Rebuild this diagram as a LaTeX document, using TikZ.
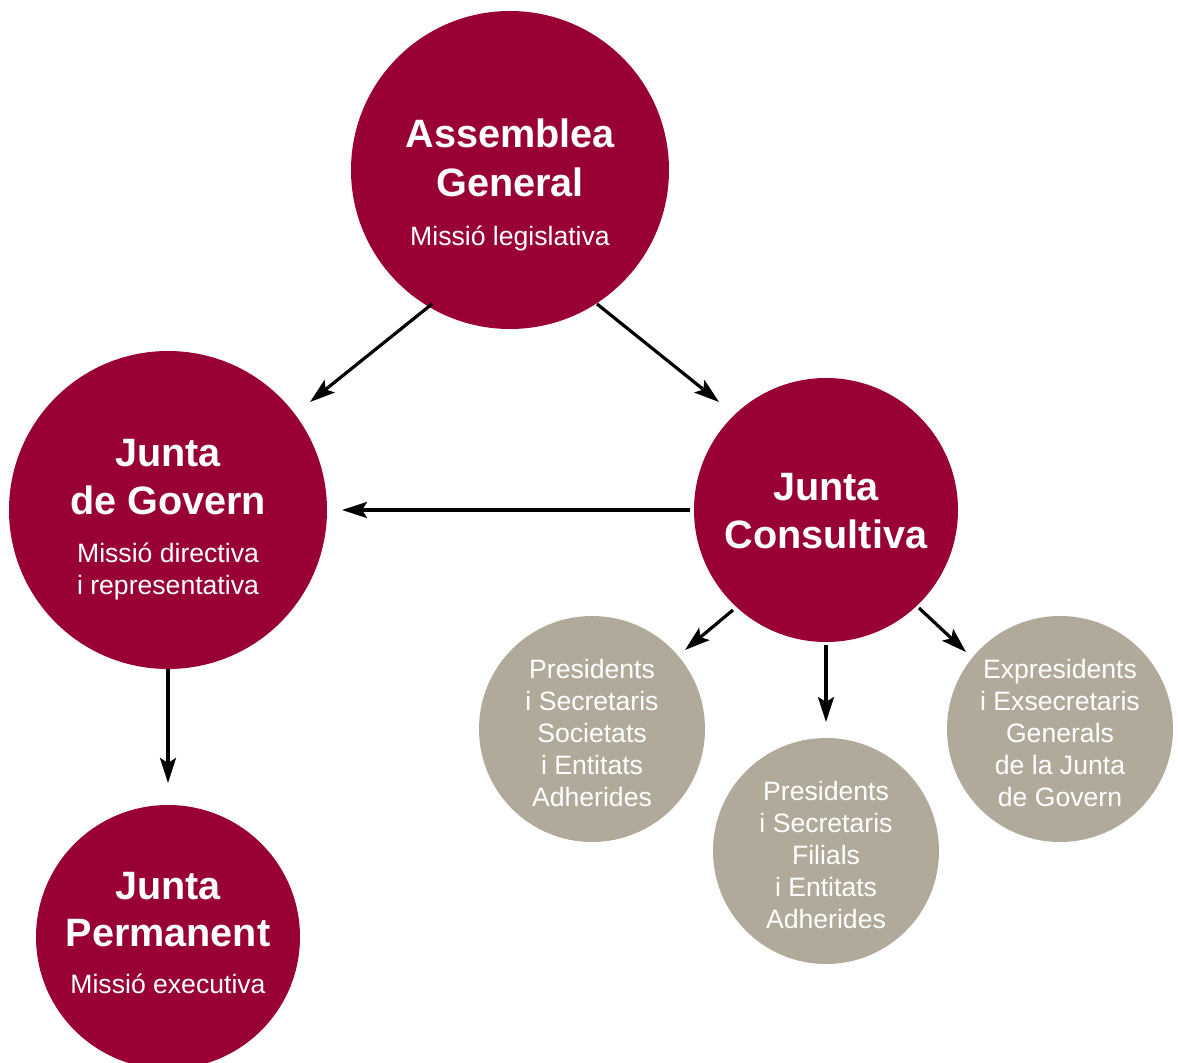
\documentclass[tikz,border=0pt]{standalone}
\usepackage{fontspec}
\setmainfont{Liberation Sans}
\usetikzlibrary{arrows.meta}
\definecolor{cred}{HTML}{990033}
\definecolor{cgrey}{HTML}{B1AA9A}
\tikzset{
  redc/.style={circle,fill=cred,draw=none,inner sep=0pt},
  greyc/.style={circle,fill=cgrey,draw=none,inner sep=0pt},
  ttl/.style={anchor=base,text=white,font=\fontsize{19.8}{24}\selectfont\bfseries,inner sep=0pt,yshift=-1pt},
  sub/.style={anchor=base,text=white,font=\fontsize{13.3}{16}\selectfont,inner sep=0pt,yshift=-1.2pt},
  arr/.style={line width=1.6pt,-{Stealth[length=12.5pt,width=8pt,inset=2.5pt]}}
}
\begin{document}
\begin{tikzpicture}[x=0.5pt,y=-0.5pt]
\useasboundingbox (0,0) rectangle (1178,1063);
% circles
\node[redc,minimum size=159pt] (ag) at (510,170) {};
\node[redc,minimum size=159pt] (jg) at (168,510) {};
\node[redc,minimum size=132pt] (jc) at (826,510) {};
\node[redc,minimum size=132pt] (jp) at (168,937) {};
\node[greyc,minimum size=113pt] (ps) at (592,729) {};
\node[greyc,minimum size=113pt] (pf) at (826,851) {};
\node[greyc,minimum size=113pt] (ex) at (1060,729) {};
% texts
\node[ttl] (t1) at (510,146) {Assemblea};
\node[ttl] (t2) at (510,195) {General};
\node[sub] (t3) at (510,243) {Missió legislativa};
\node[ttl] (t4) at (168,465) {Junta};
\node[ttl] (t5) at (168,513) {de Govern};
\node[sub] (t6) at (168,560) {Missió directiva};
\node[sub] (t7) at (168,592) {i representativa};
\node[ttl] (t8) at (826,499) {Junta};
\node[ttl] (t9) at (826,547) {Consultiva};
\node[ttl] (t10) at (168,897) {Junta};
\node[ttl] (t11) at (168,944) {Permanent};
\node[sub] (t12) at (168,991) {Missió executiva};
\node[sub] (s1) at (592,676) {Presidents};
\node[sub] (s2) at (592,708) {i Secretaris};
\node[sub] (s3) at (592,740) {Societats};
\node[sub] (s4) at (592,772) {i Entitats};
\node[sub] (s5) at (592,804) {Adherides};
\node[sub] (f1) at (826,798) {Presidents};
\node[sub] (f2) at (826,830) {i Secretaris};
\node[sub] (f3) at (826,862) {Filials};
\node[sub] (f4) at (826,894) {i Entitats};
\node[sub] (f5) at (826,926) {Adherides};
\node[sub] (e1) at (1060,676) {Expresidents};
\node[sub] (e2) at (1060,708) {i Exsecretaris};
\node[sub] (e3) at (1060,740) {Generals};
\node[sub] (e4) at (1060,772) {de la Junta};
\node[sub] (e5) at (1060,804) {de Govern};
% arrow coordinates
\coordinate (a1s) at (432,304); \coordinate (a1e) at (310,402);
\coordinate (a2s) at (597,304); \coordinate (a2e) at (719,402);
\coordinate (a3s) at (690,510); \coordinate (a3e) at (342,510);
\coordinate (a4s) at (168,669); \coordinate (a4e) at (168,783);
\coordinate (a5s) at (733,610); \coordinate (a5e) at (685,650);
\coordinate (a6s) at (826,645); \coordinate (a6e) at (826,722);
\coordinate (a7s) at (919,608); \coordinate (a7e) at (966,652);
\draw[arr] (a1s) -- (a1e);
\draw[arr] (a2s) -- (a2e);
\draw[arr] (a3s) -- (a3e);
\draw[arr] (a4s) -- (a4e);
\draw[arr] (a5s) -- (a5e);
\draw[arr] (a6s) -- (a6e);
\draw[arr] (a7s) -- (a7e);
\end{tikzpicture}
\end{document}
